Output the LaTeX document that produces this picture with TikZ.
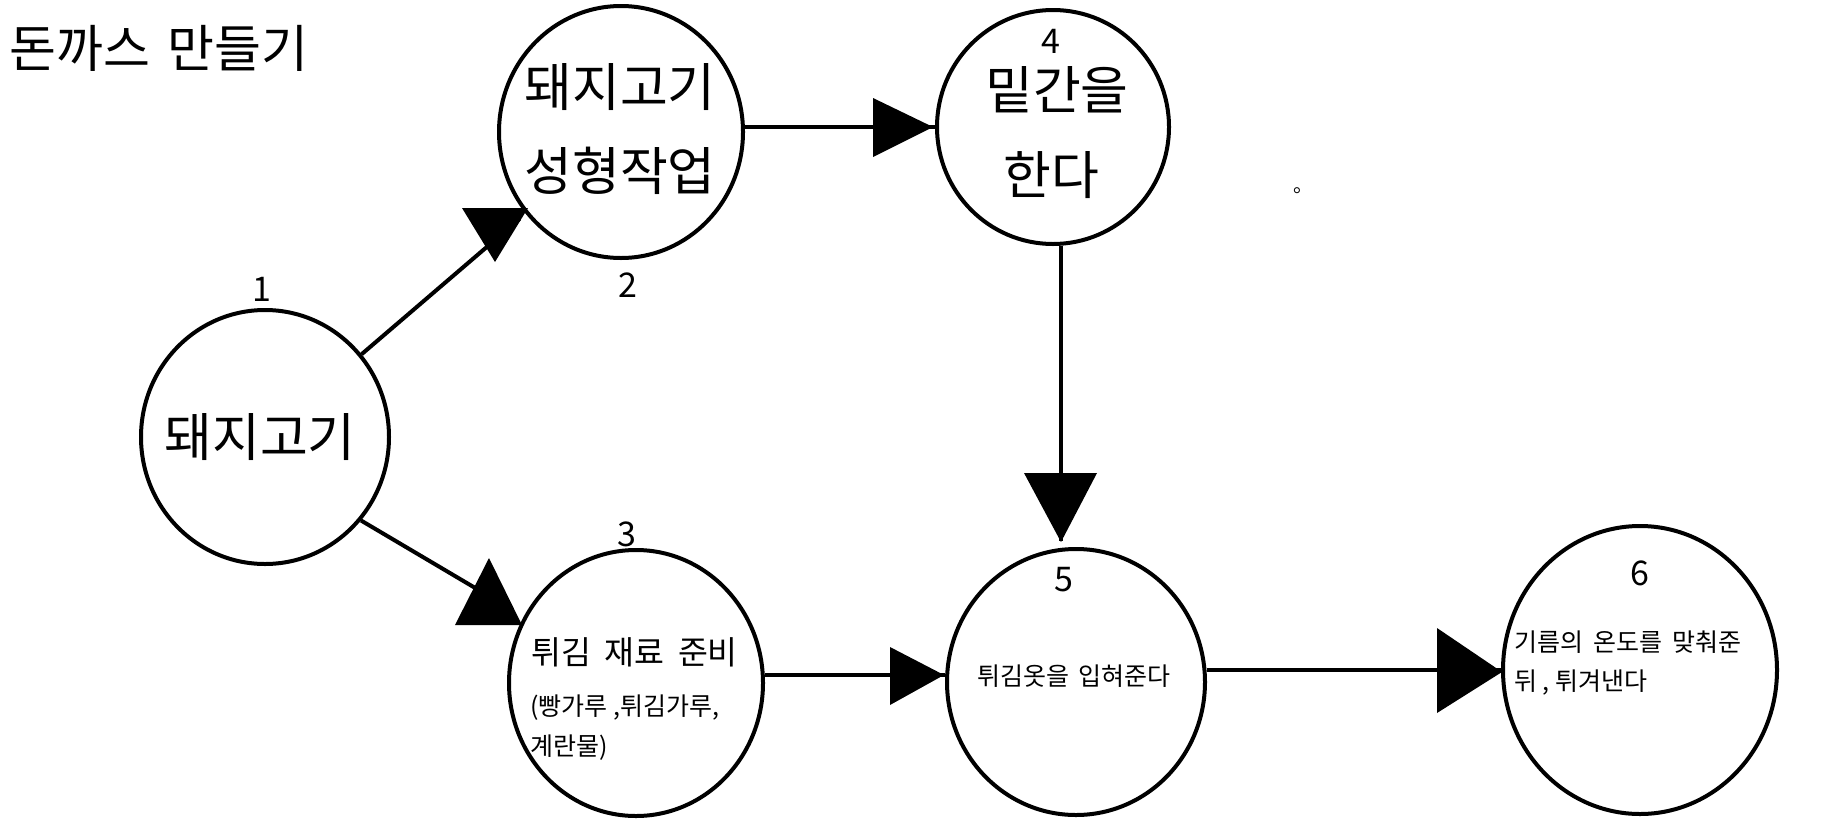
\documentclass[tikz,border=0pt]{standalone}
\usepackage{fontspec}
\setmainfont{Noto Sans CJK KR}
\usetikzlibrary{shapes.geometric}
\begin{document}
\begin{tikzpicture}[x=1pt,y=-1pt,
  stage/.style={ellipse,draw,line width=4pt,inner sep=0pt},
  conn/.style={line width=4pt},
  head/.style={fill=black},
  num/.style={font=\fontsize{34}{40}\selectfont,inner sep=0pt},
  big/.style={font=\fontsize{52}{60}\selectfont,inner sep=0pt},
  mid/.style={font=\fontsize{32.5}{38}\selectfont,inner sep=0pt},
  small/.style={font=\fontsize{25}{30}\selectfont,inner sep=0pt}]
\useasboundingbox[fill=white] (0,0) rectangle (1823,825);
% stages
\node[stage,minimum width=248pt,minimum height=254pt] (c1) at (265,437) {};
\node[stage,minimum width=244pt,minimum height=252pt] (c2) at (621,132) {};
\node[stage,minimum width=232pt,minimum height=234pt] (c4) at (1053,127) {};
\node[stage,minimum width=254pt,minimum height=266pt] (c3) at (636,683) {};
\node[stage,minimum width=258pt,minimum height=266pt] (c5) at (1076,682) {};
\node[stage,minimum width=274pt,minimum height=288pt] (c6) at (1640,670) {};
% connectors
\draw[conn,shorten >=8pt] (c1) -- (c2);
\draw[conn,shorten >=35pt] (c1.-41) -- (c3);
\draw[conn] (c2.east |- c4) -- (c4.west);
\draw[conn,shorten >=6pt] ([xshift=8pt]c4.south) -- ([xshift=8pt]c4.south |- c5.north);
\draw[conn] ([yshift=8pt]c3.east) -- ([yshift=8pt]c3.east -| c5.west);
\draw[conn] (c5.east |- c6.west) -- (c6.west);
% arrowheads
\fill[head] (462,208) -- (528,208) -- (495,262) -- cycle;
\fill[head] (489,558) -- (522,625) -- (455,625) -- cycle;
\fill[head] (873,98) -- (933,127) -- (873,157) -- cycle;
\fill[head] (1024,473) -- (1097,473) -- (1061,542) -- cycle;
\fill[head] (890,647) -- (944,675) -- (890,705) -- cycle;
\fill[head] (1437,628) -- (1502,672) -- (1437,713) -- cycle;
% texts
\node[font=\fontsize{51}{60}\selectfont,anchor=west,inner sep=0pt] (title) at (9,48) {돈까스\hspace{0.35em}만들기};
\node[big] (t1) at (260,437) {돼지고기};
\node[big] (t2a) at (620,87) {돼지고기};
\node[big] (t2b) at (620,171) {성형작업};
\node[big] (t4a) at (1057,90) {밑간을};
\node[big] (t4b) at (1051,175) {한다};
\node[mid,anchor=west] (t3a) at (531,652) {튀김\hspace{0.42em}재료\hspace{0.42em}준비};
\node[small,anchor=west] (t3b) at (530,708) {(빵가루 ,튀김가루,};
\node[small,anchor=west] (t3c) at (530,748) {계란물)};
\node[small] (t5) at (1074,676) {튀김옷을\hspace{0.4em}입혀준다};
\node[small,anchor=west] (t6a) at (1514,642) {기름의\hspace{0.4em}온도를\hspace{0.4em}맞춰준};
\node[small,anchor=west] (t6b) at (1514,683) {뒤 , 튀겨낸다};
% numbers
\node[num] (n1) at (262,289) {1};
\node[num] (n2) at (628,285) {2};
\node[num] (n3) at (627,534) {3};
\node[num] (n4) at (1051,41) {4};
\node[num] (n5) at (1064,580) {5};
\node[num] (n6) at (1640,573) {6};
\node[font=\fontsize{20}{24}\selectfont,anchor=base west,inner sep=0pt] (dot) at (1293,192) {。};
\end{tikzpicture}
\end{document}
